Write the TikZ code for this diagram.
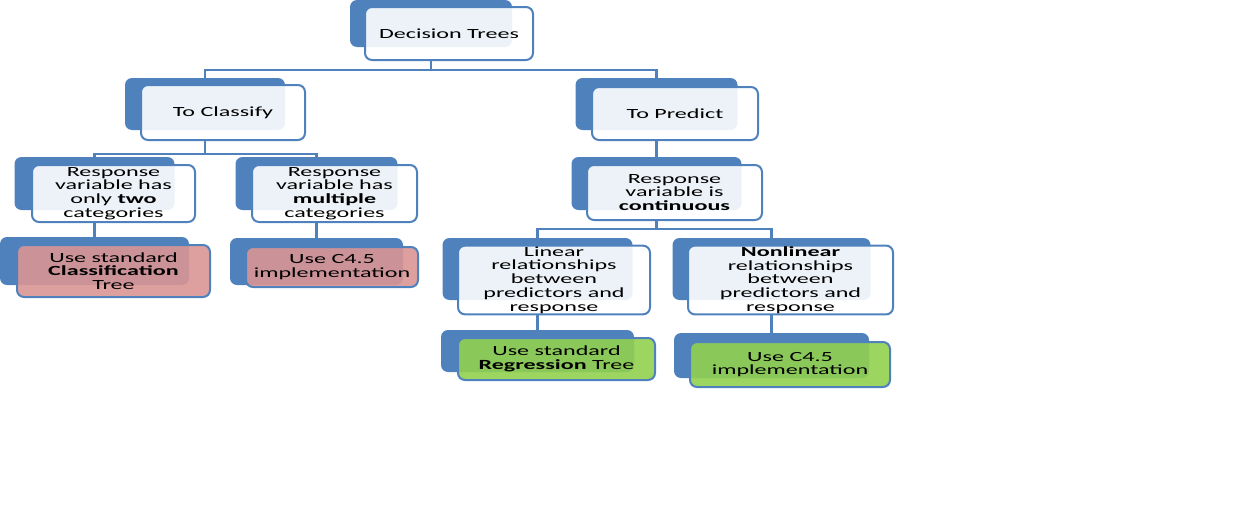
\documentclass[tikz,border=0pt]{standalone}
\usepackage{fontspec}
\setmainfont[FakeStretch=1.72]{Carlito}
\usepackage{tikz}
\definecolor{smblue}{HTML}{4F81BD}
\definecolor{smpink}{HTML}{D99694}
\definecolor{smgreen}{HTML}{92D050}
\tikzstyle{back} = [rectangle, fill=smblue, rounded corners=7pt, inner sep=0pt]
\tikzstyle{front} = [rectangle, draw=smblue, line width=2pt, fill=white,
                 fill opacity=0.9, text opacity=1, rounded corners=7pt,
                 align=center, inner sep=1pt, font=\fontsize{14}{13.7}\selectfont]
\tikzstyle{pinkbox} = [front, fill=smpink]
\tikzstyle{greenbox} = [front, fill=smgreen]
\tikzstyle{branch} = [draw=smblue, line width=2.8pt]
\tikzset{
	wh/.style 2 args={minimum width=#1, minimum height=#2},
}

\begin{document}
\begin{tikzpicture}[x=1pt, y=-1pt]

\useasboundingbox (0,0) rectangle (1240,514);

    	%level 0
\node [back, wh={162}{47}] at (431,23.5) (dtb) {};
\node [front, wh={168}{53}] at (449,33.5) (dt) {Decision Trees};

    	%level 1
\node [back, wh={160}{52}] at (205,104) (clsb) {};
\node [front, wh={164}{55}] at (223,112.5) (cls) {To Classify};
\node [back, wh={162}{52}] at (656.5,104) (prdb) {};
\node [front, wh={166}{53}] at (675,113.5) (prd) {To Predict};

    	%level 2
\node [back, wh={160}{53}] at (94.5,183.5) (twob) {};
\node [front, wh={163}{57}] at (113.5,193.5) (two) {Response\\variable  has\\only \textbf{two}\\categories};
\node [back, wh={162}{53}] at (316.5,183.5) (multb) {};
\node [front, wh={165}{57}] at (334.5,193.5) (mult) {Response\\variable  has\\\textbf{multiple}\\categories};
\node [back, wh={170}{53}] at (656.5,183.5) (contb) {};
\node [front, wh={175}{55}] at (674.5,192.5) (cont) {Response\\variable is\\\textbf{continuous}};

    	%level 3
\node [back, wh={189}{48}] at (94.5,261) (ctreeb) {};
\node [pinkbox, wh={193}{52}] at (113.5,271) (ctree) {Use standard\\\textbf{Classification}\\Tree};
\node [back, wh={173}{47}] at (316.5,261.5) (cfiveab) {};
\node [pinkbox, wh={172}{40}] at (332,267) (cfivea) {Use C4.5\\implementation};
\node [back, wh={190}{62}] at (537.5,269) (linb) {};
\node [front, wh={192}{66}] at (554,280) (lin) {Linear\\relationships\\between\\predictors and\\response};
\node [back, wh={198}{62}] at (771.5,269) (nlinb) {};
\node [front, wh={205}{66}] at (790.5,280) (nlin) {\textbf{Nonlinear}\\relationships\\between\\predictors and\\response};

    	%level 4
\node [back, wh={193}{42}] at (537.5,351) (rtreeb) {};
\node [greenbox, wh={197}{42}] at (556.5,359) (rtree) {Use standard\\\textbf{Regression} Tree};
\node [back, wh={195}{45}] at (771.5,355.5) (cfivebb) {};
\node [greenbox, wh={200}{45}] at (790,364.5) (cfiveb) {Use C4.5\\implementation};

    	%branches
\draw [branch] (dtb |- dt.south) -- ++(0,9) -| (clsb.north);
\draw [branch] (dtb |- dt.south) -- ++(0,9) -| (prdb.north);
\draw [branch] (clsb |- cls.south) -- ++(0,13) -| (twob.north);
\draw [branch] (clsb |- cls.south) -- ++(0,13) -| (multb.north);
\draw [branch] (prdb |- prd.south) -- (contb.north);
\draw [branch] (contb |- cont.south) -- ++(0,8) -| (linb.north);
\draw [branch] (contb |- cont.south) -- ++(0,8) -| (nlinb.north);
\draw [branch] (twob |- two.south) -- (ctreeb.north);
\draw [branch] (multb |- mult.south) -- (cfiveab.north);
\draw [branch] (linb |- lin.south) -- (rtreeb.north);
\draw [branch] (nlinb |- nlin.south) -- (cfivebb.north);

\end{tikzpicture}
\end{document}
